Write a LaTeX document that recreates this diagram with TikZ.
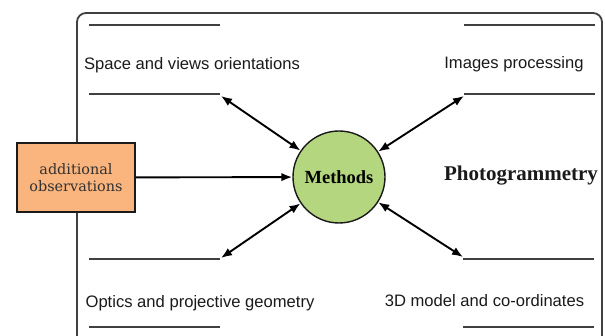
\documentclass[tikz,border=0pt]{standalone}
\usepackage{fontspec}
\setmainfont{Liberation Serif}
\newfontfamily\topicfont{Liberation Sans}
\newfontfamily\boxfont{DejaVu Serif}
\usetikzlibrary{arrows.meta,positioning}
\definecolor{methodsgreen}{HTML}{B4D67E}
\definecolor{obsorange}{HTML}{FAB47D}
\definecolor{framegray}{HTML}{404040}
\definecolor{inkdark}{HTML}{1A1A1A}
\tikzset{
  outerframe/.style={framegray, line width=1.8pt, rounded corners=9pt},
  bar/.style={framegray, line width=2.2pt},
  topic/.style={inkdark, font=\topicfont\fontsize{16.6}{19}\selectfont, anchor=base, inner sep=0pt},
  methodnode/.style={circle, draw=inkdark, line width=1.4pt, fill=methodsgreen, minimum size=92pt, inner sep=0pt, font=\bfseries\fontsize{18.5}{20}\selectfont},
  obsnode/.style={draw=inkdark, line width=1.5pt, fill=obsorange, minimum width=118pt, minimum height=69pt, inner sep=0pt, align=center, text=inkdark!90, font=\boxfont\fontsize{14.4}{17}\selectfont},
  titlenode/.style={inkdark, anchor=base, inner sep=0pt, font=\bfseries\fontsize{21}{24}\selectfont},
  link/.style={black, line width=1.9pt, {Latex[length=11pt,width=8.5pt]}-{Latex[length=11pt,width=8.5pt]}},
  feed/.style={black, line width=1.9pt, -{Latex[length=11pt,width=8.5pt]}}
}
\begin{document}
\begin{tikzpicture}[x=1pt,y=-1pt]
  \useasboundingbox (0,0) rectangle (605,336);
  \clip (0,0) rectangle (605,336);
  \draw[outerframe] (77,13) rectangle (602,345);
  % bars round the four topics
  \foreach \bx/\by in {89/25, 89/94, 464/25, 464/94, 89/259, 89/327, 463/259, 463/327}{
    \draw[bar] (\bx,\by) -- ++(131,0);
  }
  \node[topic] (space) at (192,69.5) {Space and views orientations};
  \node[topic] (images) at (514,69) {Images processing};
  \node[topic] (optics) at (200,308) {Optics and projective geometry};
  \node[topic] (model) at (484.5,306.5) {3D model and co-ordinates};
  \coordinate (space end) at (221,96);
  \coordinate (images end) at (464,96);
  \coordinate (optics end) at (221,258);
  \coordinate (model end) at (463,257);
  \node[methodnode] (methods) at (339,177) {Methods};
  \node[obsnode] (obs) at (76,177.5) {additional\\observations};
  \node[titlenode] (photo) at (521,181) {Photogrammetry};
  \draw[feed] (obs) -- (methods);
  \draw[link] (methods) -- (space end);
  \draw[link] (methods) -- (images end);
  \draw[link] (methods) -- (optics end);
  \draw[link] (methods) -- (model end);
\end{tikzpicture}
\end{document}
